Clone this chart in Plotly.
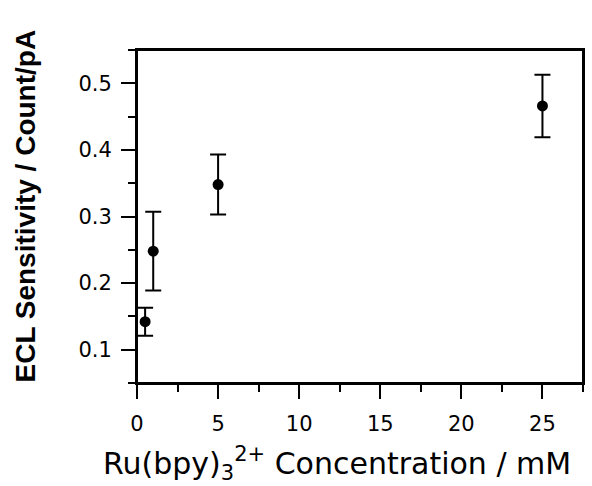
import plotly.graph_objects as go

# Ru(bpy)3 2+ concentration (mM) vs ECL sensitivity (count/pA)
concentration = [0.5, 1, 5, 25]
sensitivity = [0.142, 0.248, 0.348, 0.466]
sensitivity_err = [0.021, 0.059, 0.045, 0.047]

x_ticks = [0, 5, 10, 15, 20, 25]
y_ticks = [0.1, 0.2, 0.3, 0.4, 0.5]

x_title = "Ru(bpy)<sub>3</sub><sup>2+</sup> Concentration / mM"
y_title = "<b>ECL Sensitivity / Count/pA</b>"

wide_font = "DejaVu Sans, Verdana, sans-serif"
arial_font = "Liberation Sans, Arial, sans-serif"

fig = go.Figure(
    go.Scatter(
        x=concentration,
        y=sensitivity,
        mode="markers",
        marker=dict(color="black", size=11),
        error_y=dict(
            type="data",
            array=sensitivity_err,
            visible=True,
            color="black",
            thickness=2,
            width=8,
        ),
        showlegend=False,
    )
)

axis_common = dict(
    showgrid=False,
    zeroline=False,
    showline=True,
    linecolor="black",
    linewidth=2,
    mirror=True,
    ticks="outside",
    ticklen=14,
    tickwidth=2,
    tickcolor="black",
    tickfont=dict(family=wide_font, size=21, color="black"),
)

fig.update_xaxes(
    range=[0, 27.5],
    tickvals=x_ticks,
    ticktext=[str(v) for v in x_ticks],
    ticklabelstandoff=7,
    minor=dict(ticks="outside", ticklen=7, tickwidth=2, tickcolor="black", dtick=2.5, tick0=0),
    **axis_common,
)

fig.update_yaxes(
    range=[0.05, 0.55],
    tickvals=y_ticks,
    ticktext=[f"{v:.1f}" for v in y_ticks],
    ticklabelstandoff=5,
    minor=dict(ticks="outside", ticklen=7, tickwidth=2, tickcolor="black", dtick=0.05, tick0=0.05),
    **axis_common,
)

# axis titles
fig.add_annotation(
    text=x_title,
    xref="paper", yref="paper",
    x=0.448, y=0,
    xanchor="center", yanchor="top",
    yshift=-57,
    showarrow=False,
    font=dict(family=wide_font, size=30, color="black"),
)
fig.add_annotation(
    text=y_title,
    xref="paper", yref="paper",
    x=0, y=0.53,
    xanchor="center", yanchor="middle",
    xshift=-111,
    textangle=-90,
    showarrow=False,
    font=dict(family=arial_font, size=28, color="black"),
)

# plot frame
fig.add_shape(
    type="rect",
    xref="paper", yref="paper",
    x0=0, x1=1, y0=0, y1=1,
    line=dict(color="black", width=2),
    fillcolor="rgba(0,0,0,0)",
    layer="above",
)

fig.update_layout(
    width=592,
    height=486,
    margin=dict(l=137, r=7, t=50, b=103),
    paper_bgcolor="white",
    plot_bgcolor="white",
    font=dict(family=wide_font, color="black"),
)

fig.write_html("out.html")
